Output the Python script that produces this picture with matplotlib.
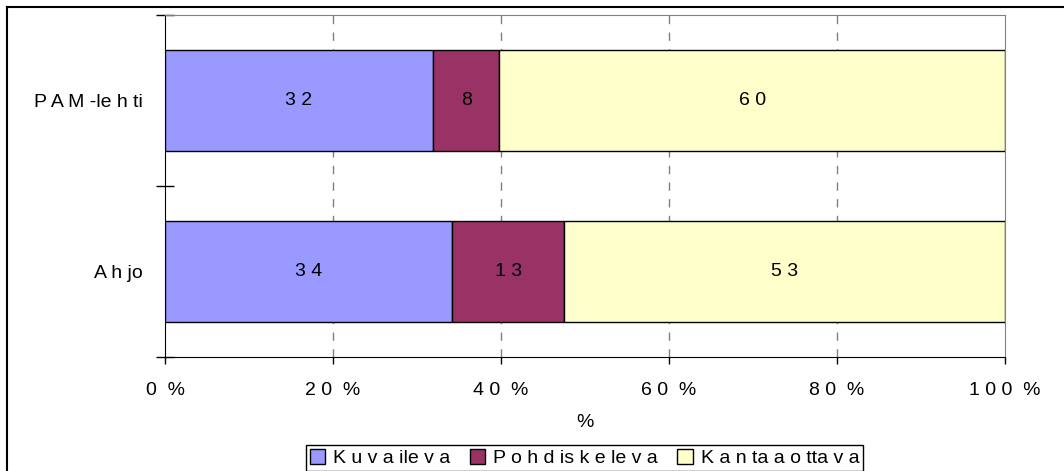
import matplotlib
matplotlib.use('Agg')
import matplotlib.pyplot as plt
from matplotlib.lines import Line2D
import numpy as np

# data (percent of each paper)
categories = ['Ahjo', 'PAM-lehti']
series_names = ['Kuvaileva', 'Pohdiskeleva', 'Kantaaottava']
kuvaileva = [34.2, 31.9]
pohdiskeleva = [13.3, 7.9]
kantaaottava = [52.5, 60.2]
bar_labels = [[34, 32], [13, 8], [53, 60]]
x_ticks = [0, 20, 40, 60, 80, 100]

# the reference was exported with uneven letter spacing; keep its look
cat_text = {'Ahjo': 'A h jo', 'PAM-lehti': 'P A M -le h ti'}
legend_text = {'Kuvaileva': 'K u v a ile v a', 'Pohdiskeleva': 'P o h d is k e le v a',
               'Kantaaottava': 'K a n ta a o tta v a'}

colors = ['#9999FF', '#993366', '#FFFFCC']
FS = 14


def spaced(s):
    return ' '.join(s)


plt.rcParams['font.family'] = ['Liberation Sans', 'DejaVu Sans']

fig = plt.figure(figsize=(10.64, 4.71), dpi=100)
W, H = 1064.0, 471.0
ax = fig.add_axes([165 / W, 1 - 357 / H, (1005 - 165) / W, (357 - 15) / H])

y = np.arange(len(categories))
left = np.zeros(len(categories))
for name, vals, col, labs in zip(series_names, [kuvaileva, pohdiskeleva, kantaaottava], colors, bar_labels):
    ax.barh(y, vals, left=left, height=0.59, color=col, edgecolor='black', linewidth=1.0,
            label=legend_text[name], zorder=3)
    for yi, (l, v, lab) in enumerate(zip(left, vals, labs)):
        ax.text(l + v / 2, yi, spaced(str(lab)), ha='center', va='center', fontsize=FS, zorder=4)
    left = left + np.array(vals)

ax.set_xlim(0, 100)
ax.set_ylim(-0.5, len(categories) - 0.5)

ax.set_xticks(x_ticks)
ax.set_xticklabels([spaced(str(t)) + '  %' for t in x_ticks], fontsize=FS)
ax.tick_params(axis='x', direction='out', length=5, width=1, pad=13)
for t in x_ticks[1:-1]:
    ax.axvline(t, color='#808080', linestyle=(0, (6, 6)), linewidth=1, zorder=1)

ax.set_yticks(np.arange(-0.5, len(categories), 1.0))
ax.set_yticklabels([])
ax.tick_params(axis='y', which='major', direction='inout', length=13, width=1)
ax.set_yticks(y, minor=True)
ax.set_yticklabels([cat_text[c] for c in categories], minor=True, fontsize=FS)
ax.tick_params(axis='y', which='minor', length=0, pad=16)

ax.set_xlabel('%', fontsize=FS, labelpad=11)

for side in ['top', 'right']:
    ax.spines[side].set_color('#808080')
for side in ['left', 'bottom']:
    ax.spines[side].set_color('black')

leg = fig.legend(loc='upper center', bbox_to_anchor=(584.5 / W, 1 - 445 / H), ncol=3,
                 fontsize=FS, frameon=True, fancybox=False, edgecolor='black', framealpha=1,
                 handlelength=0.8, handleheight=0.8, handletextpad=0.4, columnspacing=1.0,
                 borderpad=0.2, borderaxespad=0)
leg.get_frame().set_linewidth(1.0)

# outer chart frame (cut off on the right and bottom in the reference)
fig.add_artist(Line2D([7 / W, 7 / W], [1 - 7 / H, 0], color='black', linewidth=1.5))
fig.add_artist(Line2D([7 / W, 1], [1 - 7 / H, 1 - 7 / H], color='black', linewidth=1.5))

fig.savefig('out.png', dpi=100)
